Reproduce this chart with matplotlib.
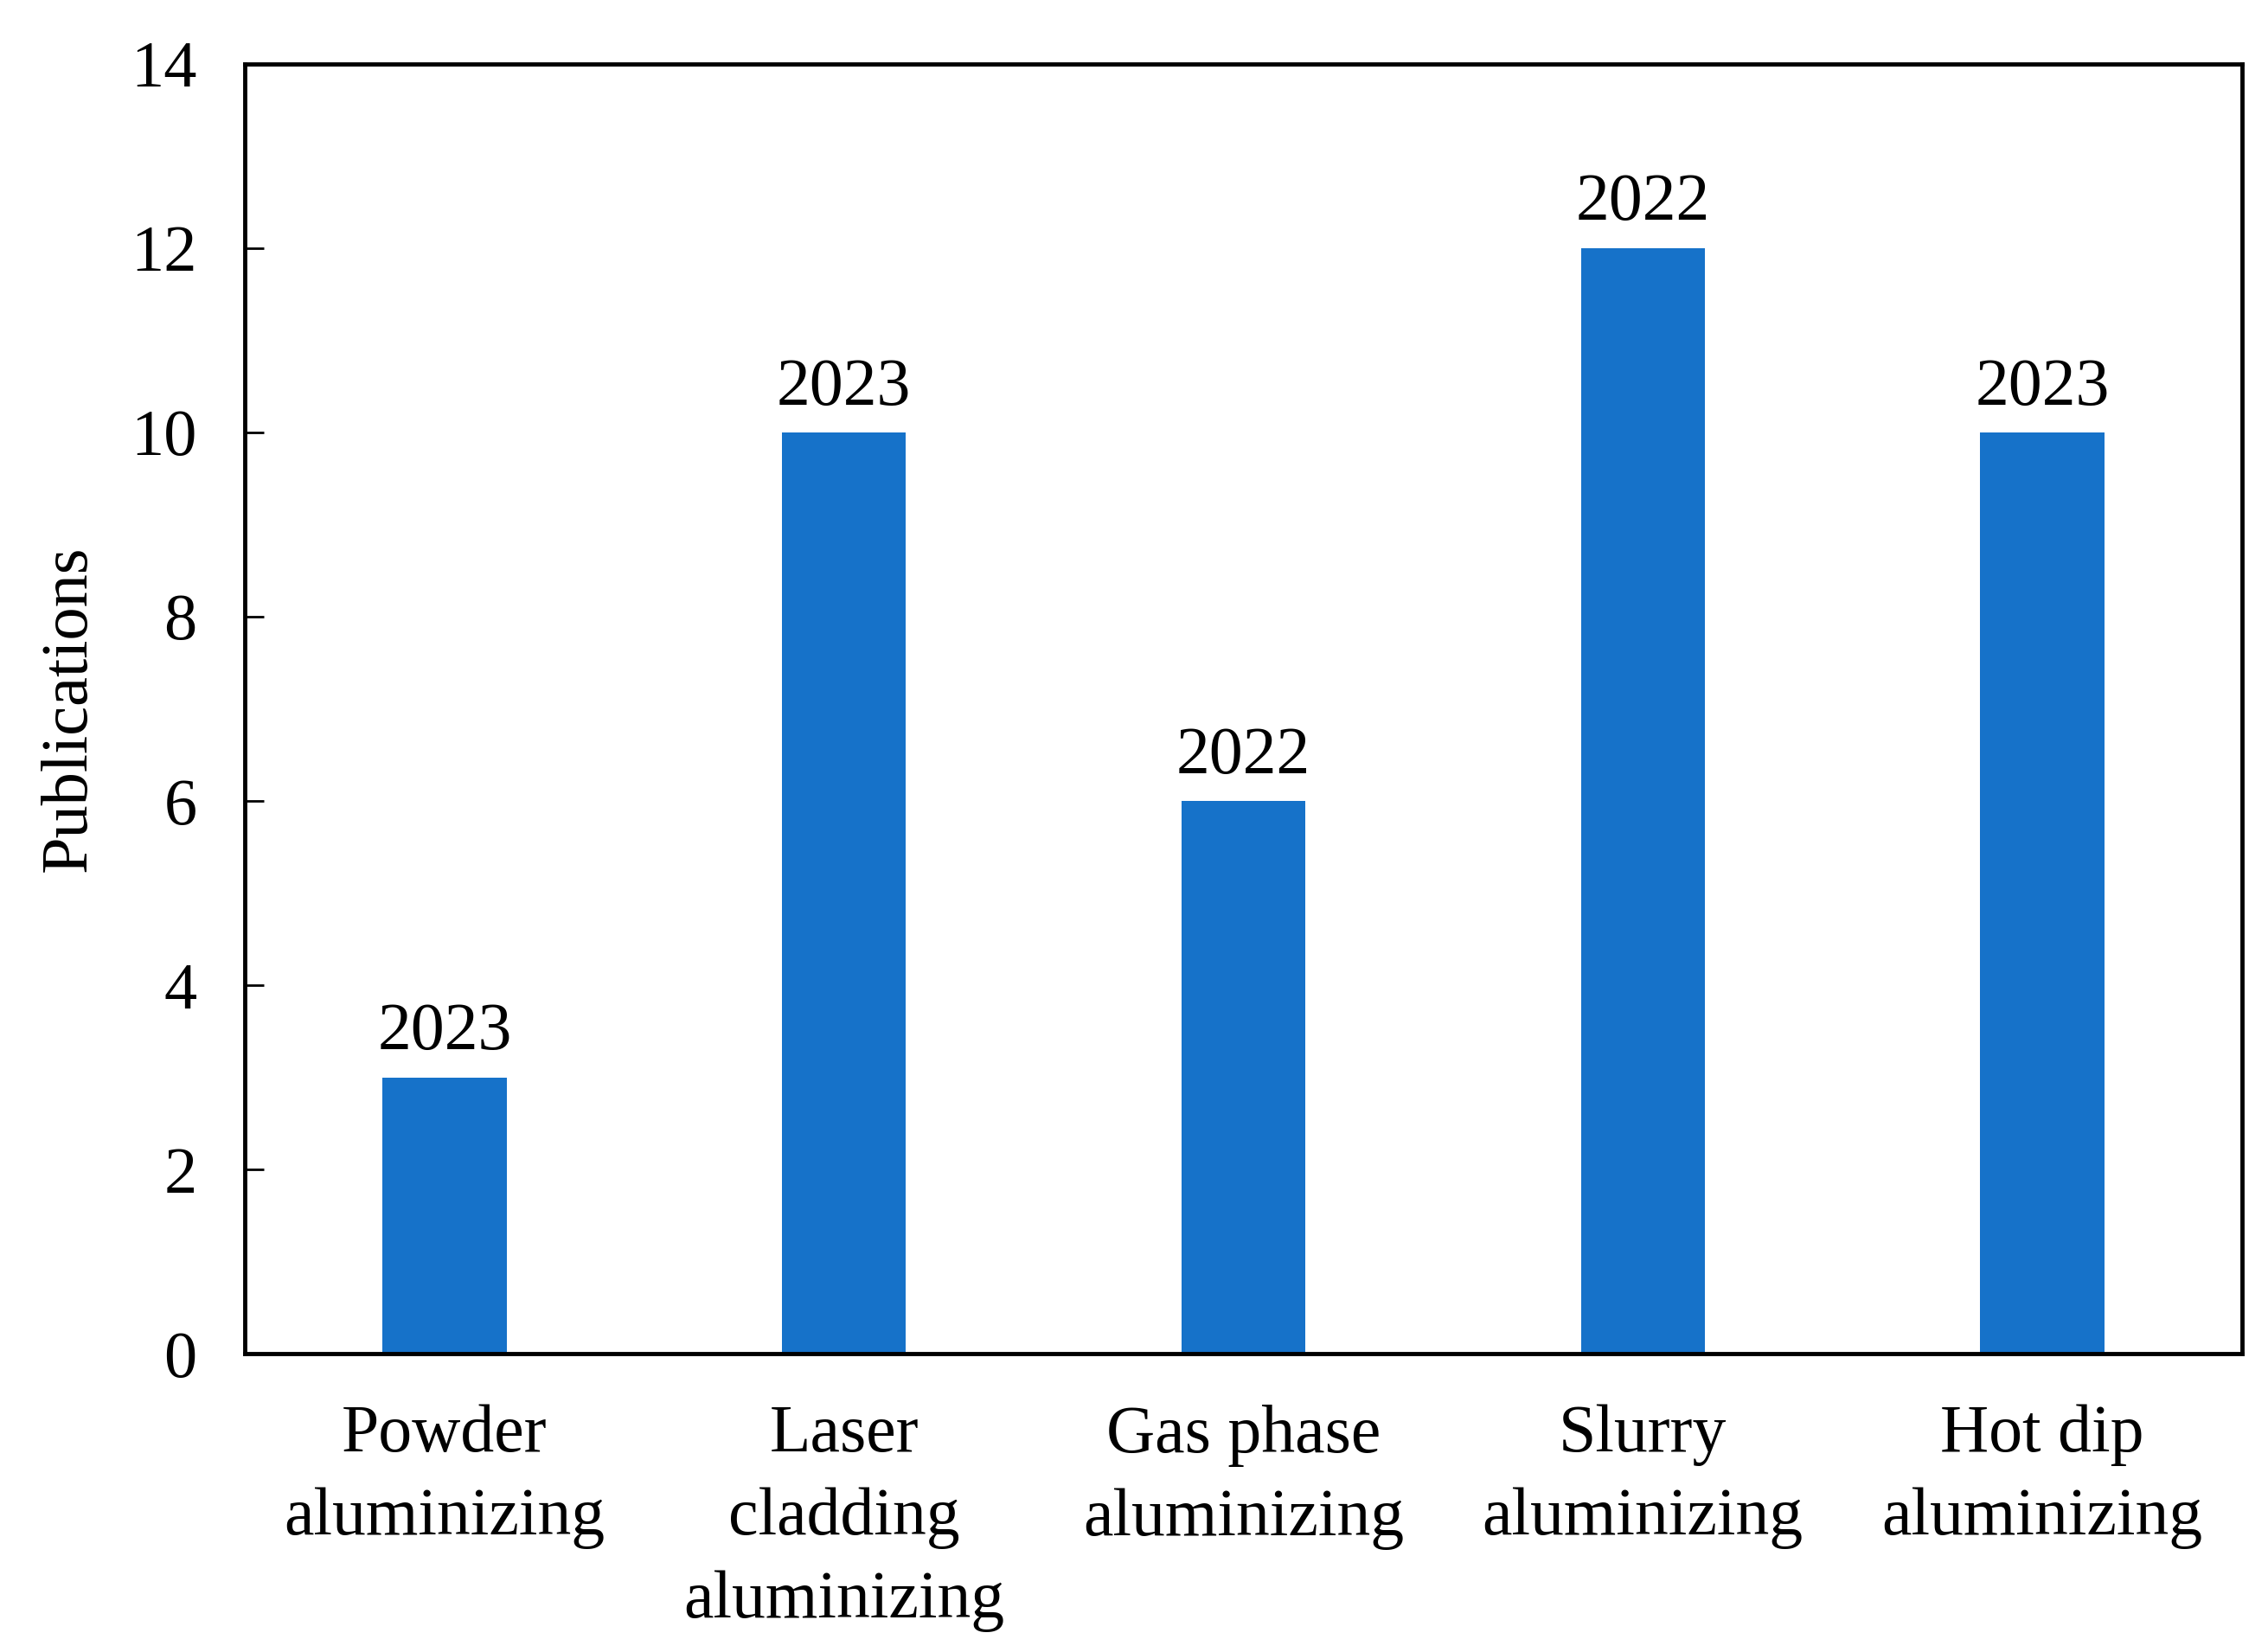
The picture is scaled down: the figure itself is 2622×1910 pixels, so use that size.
import numpy as np
import matplotlib
matplotlib.use("Agg")
import matplotlib.pyplot as plt

# Datos
categorias = ["Powder\naluminizing", "Laser\ncladding\naluminizing",
              "Gas phase\naluminizing", "Slurry\naluminizing", "Hot dip\naluminizing"]
publicaciones = [3, 10, 6, 12, 10]
anios = ["2023", "2023", "2022", "2022", "2023"]
yticks = [0, 2, 4, 6, 8, 10, 12, 14]

plt.rcParams['font.family'] = ['Liberation Serif', 'DejaVu Serif']

fig = plt.figure(figsize=(26.22, 19.10), dpi=100)
ax = fig.add_axes([0.108, 0.1804, 0.8805, 0.7811])

x = np.arange(len(categorias))
barras = ax.bar(x, publicaciones, width=0.31, color='#1672C9')

# Etiquetas de año encima de cada barra
for b, a in zip(barras, anios):
    ax.annotate(a, (b.get_x() + b.get_width() / 2, b.get_height()),
                xytext=(0, 11), textcoords='offset points',
                ha='center', va='bottom', fontsize=56)

ax.set_xlim(-0.5, 4.5)
ax.set_ylim(0, 14)
ax.set_yticks(yticks)
ax.set_xticks(x)
ax.set_xticklabels(categorias, fontsize=56, linespacing=1.45)
ax.tick_params(axis='y', direction='in', length=16, width=2, labelsize=55, pad=40)
ax.tick_params(axis='x', length=0, pad=42)
ax.set_ylabel('Publications', fontsize=55, labelpad=26)

for s in ax.spines.values():
    s.set_linewidth(3.5)

fig.savefig('out.png', dpi=100)
